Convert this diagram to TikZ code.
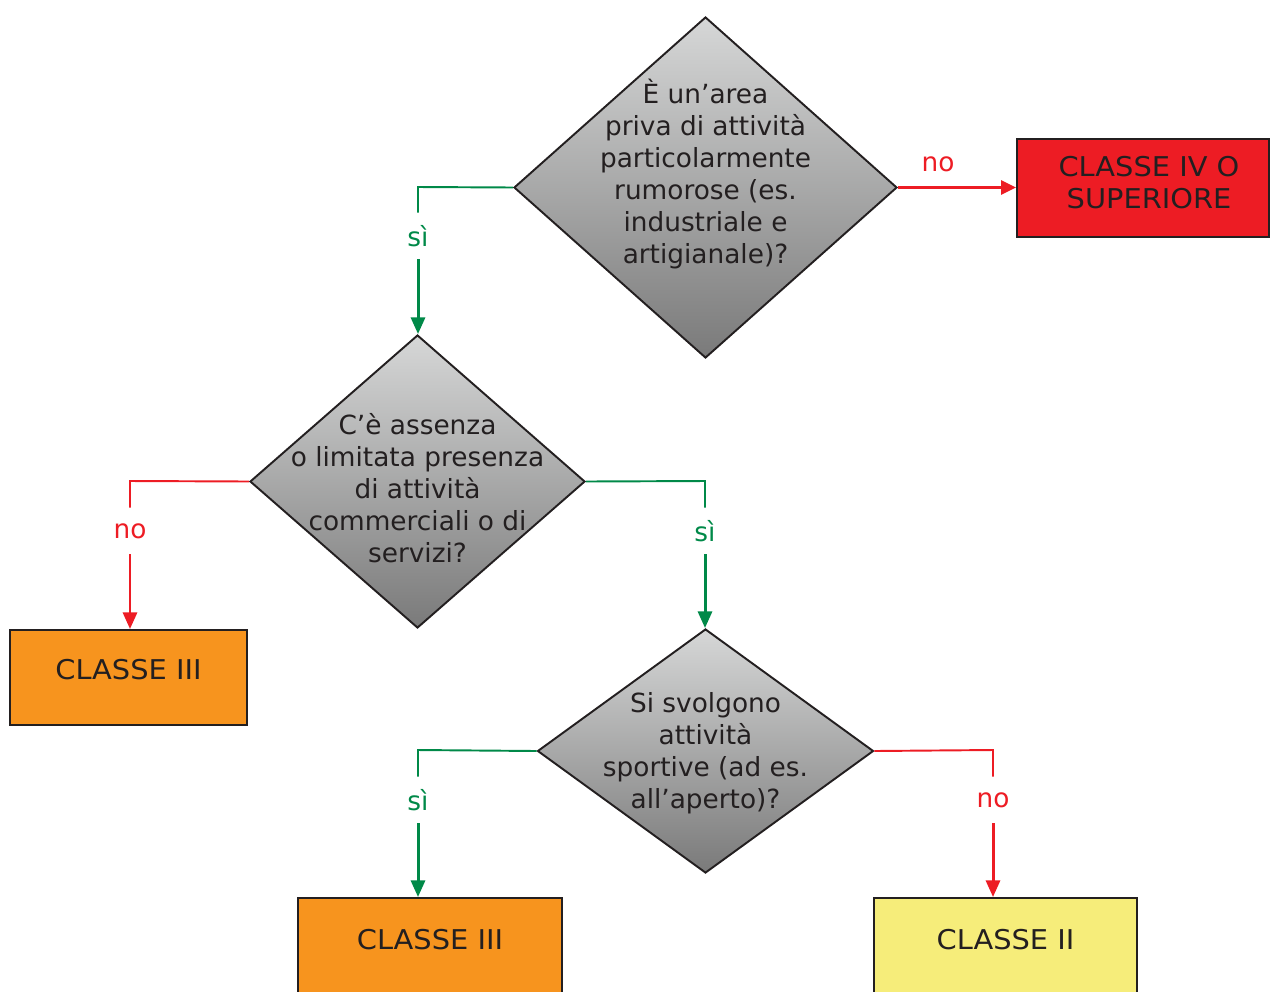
\documentclass[tikz,border=0pt]{standalone}
\usepackage{fontspec}
\setmainfont{DejaVu Sans}
\newfontfamily\boxfont[FakeStretch=1.06]{DejaVu Sans}
\usetikzlibrary{shapes.geometric,arrows.meta}
\definecolor{gr}{RGB}{0,137,72}
\definecolor{rd}{RGB}{237,28,36}
\definecolor{org}{RGB}{247,148,30}
\definecolor{yel}{RGB}{246,237,122}
\definecolor{txt}{RGB}{35,31,32}
\definecolor{dtop}{RGB}{214,215,215}
\definecolor{dbot}{RGB}{122,122,122}
\begin{document}
\begin{tikzpicture}[x=0.02cm,y=-0.02cm,
  dia/.style={diamond, draw=txt, line width=1.1pt, inner sep=0pt, top color=dtop, bottom color=dbot},
  qtext/.style={font=\fontsize{15}{18.3}\selectfont, text=txt, align=center, inner sep=0pt},
  cbox/.style={draw=txt, line width=1.1pt, inner sep=0pt, rectangle},
  btext/.style={font=\boxfont\fontsize{15.5}{18.3}\selectfont, text=txt, align=center, inner sep=0pt},
  lbl/.style={font=\fontsize{15}{18.3}\selectfont, inner sep=0pt, minimum height=46*0.02cm},
  thin/.style={line width=1.1pt},
  thick/.style={line width=1.7pt, -{Triangle[length=9.5pt,width=8pt]}},
]
\useasboundingbox (0,0) rectangle (1270,991);
\clip (0,0) rectangle (1270,991);

% diamonds
\node[dia, minimum width=383*0.02cm, minimum height=341*0.02cm] (d1) at (705.5,187.5) {};
\node[qtext] (q1) at (705.5,174) {È un’area\\priva di attività\\particolarmente\\rumorose (es.\\industriale e\\artigianale)?};

\node[dia, minimum width=335*0.02cm, minimum height=293*0.02cm] (d2) at (417.5,481.5) {};
\node[qtext] (q2) at (417.5,488) {C’è assenza\\o limitata presenza\\di attività\\commerciali o di\\servizi?};

\node[dia, minimum width=336*0.02cm, minimum height=244*0.02cm] (d3) at (705.5,751) {};
\node[qtext] (q3) at (705.5,753) {Si svolgono\\attività\\sportive (ad es.\\all’aperto)?};

% boxes
\node[cbox, fill=rd, minimum width=252*0.02cm, minimum height=98*0.02cm] (b1) at (1143,188) {};
\node[btext] (t1) at (1149,183) {CLASSE IV O\\SUPERIORE};

\node[cbox, fill=org, minimum width=237*0.02cm, minimum height=95*0.02cm] (b2) at (128.5,677.5) {};
\node[btext] (t2) at (128.5,670) {CLASSE III};

\node[cbox, fill=org, minimum width=264*0.02cm, minimum height=110*0.02cm] (b3) at (430,953) {};
\node[btext] (t3) at (430,940) {CLASSE III};

\node[cbox, fill=yel, minimum width=263*0.02cm, minimum height=110*0.02cm] (b4) at (1005.5,953) {};
\node[btext] (t4) at (1005.5,940) {CLASSE II};

% labels
\node[lbl, text=gr] (s1) at (418,236) {sì};
\node[lbl, text=rd] (n2) at (130,531) {no};
\node[lbl, text=gr] (s2) at (705,531) {sì};
\node[lbl, text=gr] (s3) at (418,800) {sì};
\node[lbl, text=rd] (n3) at (993,800) {no};
\node[lbl, text=rd, minimum height=0pt] (n1) at (938,164) {no};

% connectors
\draw[gr, thin] (d1.west) -- (418,187) coordinate (c1) -- (s1.north);
\draw[gr, thick] (s1.south) -- (s1.south |- d2.north);

\draw[rd, line width=1.4pt, -{Triangle[length=8.5pt,width=8pt]}] (d1.east) -- (d1.east -| b1.west);

\draw[rd, thin] (d2.west) -- (130,481) coordinate (c2) -- (n2.north);
\draw[rd, thick] (n2.south) -- (n2.south |- b2.north);

\draw[gr, thin] (d2.east) -- (705,481) coordinate (c3) -- (s2.north);
\draw[gr, thick] (s2.south) -- (s2.south |- d3.north);

\draw[gr, thin] (d3.west) -- (418,750) coordinate (c4) -- (s3.north);
\draw[gr, thick] (s3.south) -- (s3.south |- b3.north);

\draw[rd, thin] (d3.east) -- (993,750) coordinate (c5) -- (n3.north);
\draw[rd, thick] (n3.south) -- (n3.south |- b4.north);
\end{tikzpicture}
\end{document}
